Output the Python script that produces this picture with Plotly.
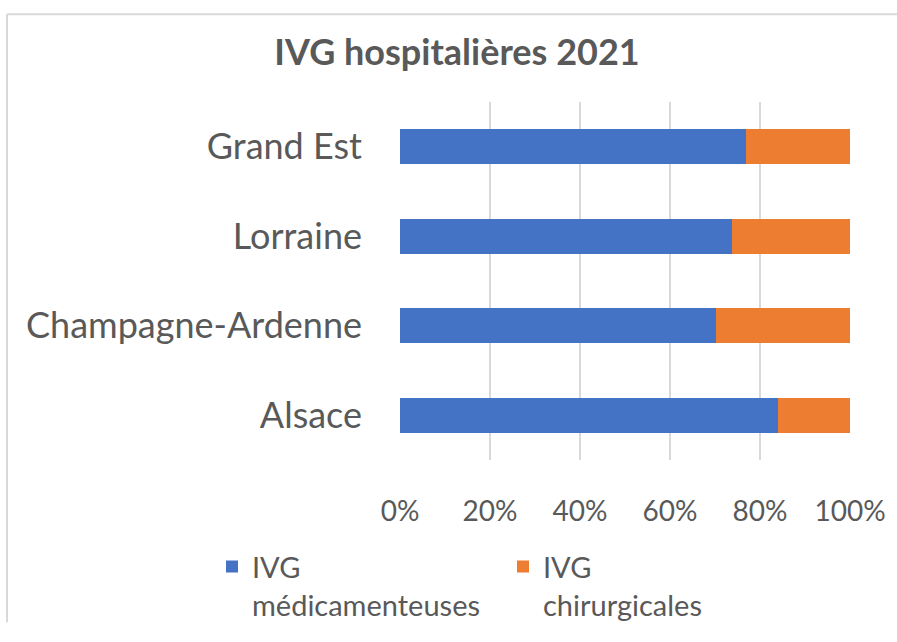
import plotly.graph_objects as go

# Data
regions = ["Grand Est", "Lorraine", "Champagne-Ardenne", "Alsace"]
medicamenteuses = [0.768, 0.737, 0.702, 0.841]
chirurgicales = [0.232, 0.263, 0.298, 0.159]
series_names = ["IVG<br>médicamenteuses", "IVG<br>chirurgicales"]
tick_vals = [0, 0.2, 0.4, 0.6, 0.8, 1.0]
tick_text = ["0%", "20%", "40%", "60%", "80%", "100%"]
title_text = "IVG hospitalières 2021"

FONT = "Lato, 'Open Sans', sans-serif"
TXT = "#595959"
GRID = "#d9d9d9"

W, H = 897, 642
ML, MR, MT, MB = 400, 47, 102, 165
PW, PH = W - ML - MR, H - MT - MB


def px_x(p):
    return (p - ML) / PW


def px_y(p):
    return (H - MB - p) / PH


fig = go.Figure()
fig.add_trace(go.Bar(y=regions, x=medicamenteuses, orientation="h",
                     name=series_names[0], marker=dict(color="#4472C4", line=dict(width=0))))
fig.add_trace(go.Bar(y=regions, x=chirurgicales, orientation="h",
                     name=series_names[1], marker=dict(color="#ED7D31", line=dict(width=0))))

fig.update_layout(
    width=W, height=H,
    autosize=False,
    margin=dict(l=ML, r=MR, t=MT, b=MB),
    barmode="stack",
    bargap=0.605,
    plot_bgcolor="white",
    paper_bgcolor="white",
    font=dict(family=FONT, color=TXT),
    title=dict(text="<b>" + title_text + "</b>", x=457 / W, xanchor="center",
               y=1 - 52 / H, yanchor="middle", xref="container", yref="container",
               font=dict(size=36, color=TXT, family=FONT)),
    xaxis=dict(range=[0, 1], tickvals=tick_vals, ticktext=tick_text,
               showgrid=True, gridcolor=GRID, gridwidth=2,
               zeroline=False, showline=False, ticks="",
               tickfont=dict(size=28, color=TXT), ticklabelstandoff=32,
               fixedrange=True),
    yaxis=dict(autorange="reversed", showgrid=False, zeroline=False, showline=False,
               ticks="", tickfont=dict(size=36, color=TXT), ticklabelstandoff=37,
               fixedrange=True),
    legend=dict(orientation="h", x=px_x(212), xanchor="left", y=px_y(562), yanchor="top",
                font=dict(size=29, color=TXT), valign="top",
                entrywidth=246, entrywidthmode="pixels", traceorder="normal",
                bgcolor="rgba(0,0,0,0)"),
    showlegend=True,
)

# chart frame (top and left edges visible in the crop)
fig.add_shape(type="line", xref="paper", yref="paper",
              x0=px_x(7), x1=px_x(7), y0=px_y(10), y1=px_y(H + 5),
              line=dict(color=GRID, width=2))
fig.add_shape(type="line", xref="paper", yref="paper",
              x0=px_x(7), x1=px_x(W + 5), y0=px_y(10), y1=px_y(10),
              line=dict(color=GRID, width=2))

fig.write_html("out.html", config={"displayModeBar": False, "responsive": False},
               post_script="document.body.style.margin='0';")
